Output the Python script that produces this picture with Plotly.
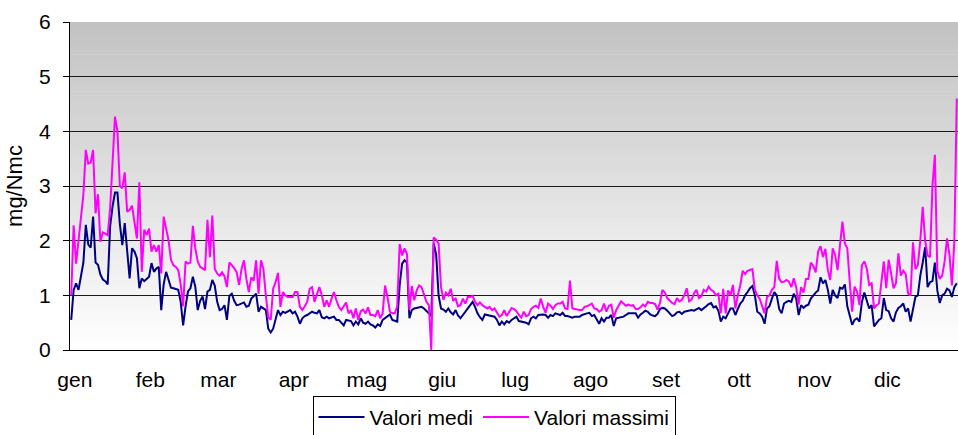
import plotly.graph_objects as go

# ---- data (daily values) ----
month_labels = ["gen", "feb", "mar", "apr", "mag", "giu", "lug", "ago", "set", "ott", "nov", "dic"]
month_lengths = [31, 28, 31, 30, 31, 30, 31, 31, 30, 31, 30, 31]

valori_medi = [
    0.55, 1.1, 1.22, 1.1, 1.35, 1.6, 2.29, 1.93, 1.87, 2.44,
    1.6, 1.56, 1.38, 1.29, 1.26, 1.2, 2.26, 2.63, 2.88, 2.88,
    2.3, 1.92, 2.32, 1.8, 1.31, 1.86, 1.8, 1.68, 1.13, 1.31,
    1.26, 1.3, 1.34, 1.59, 1.43, 1.49, 1.52, 0.73, 1.2, 1.43,
    1.28, 1.14, 1.13, 1.12, 1.1, 0.88, 0.45, 0.8, 1.07, 1.13,
    1.34, 1.16, 0.73, 0.9, 0.98, 0.75, 1.07, 1.1, 1.28, 1.18,
    0.88, 0.73, 0.75, 0.82, 0.55, 0.99, 1.03, 0.9, 0.82, 0.83,
    0.85, 0.87, 0.79, 0.81, 0.94, 0.99, 1.03, 0.7, 0.79, 0.76,
    0.73, 0.39, 0.32, 0.39, 0.58, 0.73, 0.64, 0.7, 0.68, 0.71,
    0.73, 0.67, 0.7, 0.61, 0.48, 0.58, 0.62, 0.64, 0.67, 0.7,
    0.68, 0.67, 0.73, 0.6, 0.58, 0.61, 0.58, 0.6, 0.61, 0.55,
    0.55, 0.5, 0.45, 0.55, 0.54, 0.53, 0.45, 0.52, 0.47, 0.58,
    0.5, 0.48, 0.52, 0.47, 0.45, 0.41, 0.47, 0.44, 0.55, 0.58,
    0.62, 0.65, 0.55, 0.53, 0.52, 1.18, 1.58, 1.64, 1.6, 0.58,
    0.73, 0.76, 0.77, 0.79, 0.79, 0.76, 0.72, 0.67, 0.62, 1.95,
    1.75, 1.0, 0.76, 0.74, 0.7, 0.76, 0.69, 0.65, 0.73, 0.63,
    0.58, 0.65, 0.7, 0.76, 0.82, 0.88, 0.79, 0.67, 0.6, 0.55,
    0.65, 0.64, 0.64, 0.63, 0.61, 0.55, 0.45, 0.52, 0.47, 0.53,
    0.5, 0.55, 0.58, 0.61, 0.53, 0.52, 0.52, 0.5, 0.47, 0.58,
    0.61, 0.58, 0.64, 0.65, 0.65, 0.64, 0.59, 0.64, 0.62, 0.67,
    0.66, 0.64, 0.68, 0.62, 0.62, 0.61, 0.59, 0.61, 0.61, 0.61,
    0.64, 0.66, 0.67, 0.68, 0.62, 0.64, 0.55, 0.48, 0.58, 0.52,
    0.59, 0.59, 0.64, 0.44, 0.58, 0.59, 0.6, 0.61, 0.64, 0.67,
    0.67, 0.67, 0.67, 0.59, 0.65, 0.68, 0.72, 0.7, 0.65, 0.63,
    0.62, 0.66, 0.75, 0.77, 0.76, 0.72, 0.67, 0.62, 0.64, 0.69,
    0.7, 0.66, 0.7, 0.71, 0.71, 0.73, 0.72, 0.75, 0.77, 0.73,
    0.76, 0.8, 0.84, 0.86, 0.78, 0.8, 0.72, 0.52, 0.61, 0.58,
    0.67, 0.76, 0.76, 0.64, 0.75, 0.85, 0.9, 1.0, 1.06, 1.13,
    1.17, 1.0, 0.7, 0.67, 0.61, 0.48, 0.76, 0.8, 0.94, 1.06,
    1.0, 0.75, 0.67, 0.85, 0.88, 0.9, 0.88, 1.03, 0.94, 0.64,
    0.82, 0.77, 0.81, 0.83, 0.94, 1.0, 1.05, 1.09, 1.33, 1.22,
    1.28, 1.1, 0.85, 1.1, 1.0, 0.95, 1.14, 1.12, 1.2, 0.8,
    0.6, 0.46, 0.55, 0.58, 0.52, 0.88, 1.05, 0.91, 0.76, 0.82,
    0.43, 0.49, 0.55, 0.58, 0.95, 0.73, 0.71, 0.58, 0.52, 0.69,
    0.77, 0.8, 0.85, 0.7, 0.76, 0.52, 0.73, 0.97, 1.0, 1.36,
    1.6, 1.88, 1.15, 1.24, 1.26, 1.6, 1.09, 0.86, 1.0, 1.03,
    1.12, 1.09, 0.97, 1.15, 1.22,
]

valori_massimi = [
    1.0, 2.28, 1.58, 2.0, 2.4, 2.84, 3.66, 3.41, 3.43, 3.66,
    2.5, 2.85, 1.98, 2.15, 2.13, 2.1, 2.6, 3.5, 4.27, 4.0,
    3.0, 2.96, 3.25, 2.53, 2.56, 2.64, 2.29, 2.04, 3.07, 1.43,
    2.2, 2.1, 2.22, 1.8, 1.92, 1.8, 1.92, 1.4, 2.44, 2.22,
    2.01, 1.65, 1.55, 1.52, 1.46, 1.2, 0.8, 1.62, 1.58, 1.6,
    2.27, 1.86, 1.62, 1.52, 1.49, 1.46, 2.38, 1.7, 2.46, 1.48,
    1.4, 1.36, 1.42, 1.35, 1.15, 1.6, 1.55, 1.5, 1.42, 1.19,
    1.48, 1.64, 1.3, 1.06, 1.33, 1.27, 1.64, 1.03, 1.64, 1.48,
    1.0, 0.6, 0.55, 1.12, 1.24, 1.41, 0.79, 1.06, 1.0, 0.97,
    0.97, 0.97, 1.06, 1.06, 0.79, 0.73, 0.8, 0.88, 1.12, 1.15,
    0.88, 1.03, 1.15, 1.0, 0.79, 0.91, 0.79, 0.94, 1.06, 0.91,
    0.79, 0.73, 0.79, 0.87, 0.67, 0.73, 0.58, 0.76, 0.55, 0.71,
    0.74, 0.67, 0.78, 0.64, 0.64, 0.62, 0.73, 0.58, 0.67, 1.18,
    0.97, 0.7, 0.67, 0.67, 0.8, 1.94, 1.73, 1.86, 1.76, 0.73,
    1.17, 0.91, 1.09, 1.18, 1.15, 1.03, 0.88, 0.82, 0.0, 2.06,
    2.02, 1.95, 1.15, 0.92, 1.05, 1.0, 1.12, 0.9, 0.94, 0.8,
    0.82, 0.94, 0.85, 0.97, 0.97, 0.99, 0.88, 0.82, 0.87, 0.82,
    0.79, 0.76, 0.79, 0.73, 0.76, 0.67, 0.61, 0.64, 0.73, 0.62,
    0.7, 0.77, 0.75, 0.71, 0.64, 0.59, 0.7, 0.62, 0.64, 0.75,
    0.79, 0.81, 0.77, 0.94, 0.79, 0.68, 0.85, 0.81, 0.75, 0.82,
    0.85, 0.85, 0.88, 0.76, 0.75, 1.27, 0.76, 0.75, 0.73, 0.73,
    0.73, 0.79, 0.8, 0.83, 0.85, 0.76, 0.75, 0.7, 0.73, 0.85,
    0.7, 0.81, 0.83, 0.59, 0.73, 0.81, 0.89, 0.85, 0.81, 0.83,
    0.81, 0.82, 0.75, 0.75, 0.78, 0.83, 0.8, 0.88, 0.86, 0.86,
    0.84, 0.74, 0.86, 1.1, 1.05, 0.95, 0.9, 0.86, 0.84, 0.95,
    0.89, 0.92, 1.0, 1.13, 0.89, 0.92, 1.04, 1.1, 0.95, 0.98,
    1.1, 1.07, 1.16, 1.1, 1.07, 1.0, 1.03, 0.67, 1.12, 0.67,
    1.09, 1.0, 1.19, 0.76, 1.0, 1.18, 1.45, 1.39, 1.45, 1.47,
    1.48, 1.1, 1.0, 0.94, 0.82, 0.67, 0.97, 1.0, 1.1, 1.15,
    1.63, 1.3, 1.24, 1.25, 1.28, 1.25, 1.15, 1.31, 1.15, 0.83,
    1.15, 1.05, 1.3, 1.3, 1.6, 1.54, 1.42, 1.8, 1.9, 1.7,
    1.85, 1.46, 1.28, 1.86, 1.74, 1.46, 1.92, 2.35, 1.95, 1.86,
    1.25, 0.7, 1.16, 1.07, 0.82, 1.55, 1.62, 1.49, 1.19, 1.22,
    0.76, 0.82, 0.85, 1.19, 1.62, 1.13, 1.65, 1.4, 1.13, 1.22,
    1.77, 1.36, 1.45, 1.39, 1.03, 1.0, 1.97, 1.48, 1.55, 2.0,
    2.62, 2.0, 1.73, 1.7, 3.0, 3.57, 1.45, 1.3, 1.36, 1.62,
    2.04, 1.74, 1.18, 2.0, 4.6,
]

y_ticks = [0, 1, 2, 3, 4, 5, 6]

# ---- figure ----
days = list(range(len(valori_medi)))

tick_pos = []
acc = 0
for n in month_lengths:
    tick_pos.append(acc + 1.5)
    acc += n

FONT = "Liberation Sans, Arial, sans-serif"

fig = go.Figure()
fig.add_trace(go.Scatter(x=days, y=valori_medi, mode="lines", name="Valori medi",
                         line=dict(color="#000080", width=2)))
fig.add_trace(go.Scatter(x=days, y=valori_massimi, mode="lines", name="Valori massimi",
                         line=dict(color="#ff00ff", width=2)))

# gradient background (grey at top fading to white at bottom)
shapes = []
n_bands = 80
top_rgb = (194, 194, 194)
for i in range(n_bands):
    f = (i + 0.5) / n_bands  # 0 bottom -> 1 top
    c = tuple(int(round(255 + (t - 255) * f)) for t in top_rgb)
    shapes.append(dict(type="rect", xref="paper", yref="y",
                       x0=0, x1=1, y0=6 * i / n_bands, y1=6 * (i + 1) / n_bands + 0.01,
                       fillcolor="rgb(%d,%d,%d)" % c, line=dict(width=0), layer="below"))

fig.update_layout(
    width=958, height=435,
    margin=dict(l=70, r=0, t=22, b=85, autoexpand=False),
    paper_bgcolor="white",
    plot_bgcolor="white",
    shapes=shapes,
    font=dict(family=FONT, size=21, color="black"),
    showlegend=True,
    legend=dict(orientation="h", x=0.4775, xanchor="center", y=-0.14, yanchor="top",
                bordercolor="black", borderwidth=1, bgcolor="white",
                font=dict(family=FONT, size=21, color="black"),
                itemwidth=46, tracegroupgap=0),
    xaxis=dict(range=[-0.5, len(valori_medi) - 0.5], tickmode="array",
               tickvals=tick_pos, ticktext=month_labels, ticks="",
               showgrid=False, zeroline=False, showline=True, linecolor="black",
               linewidth=1, ticklabelstandoff=11, automargin=False,
               tickfont=dict(family=FONT, size=21, color="black")),
    yaxis=dict(range=[0, 6], tickmode="array", tickvals=y_ticks,
               ticks="outside", ticklen=6, tickcolor="black", tickwidth=1,
               showgrid=True, gridcolor="#1a1a1a", gridwidth=1,
               zeroline=False, showline=True, linecolor="black", linewidth=1,
               ticklabelstandoff=8, automargin=False,
               title=dict(text="mg/Nmc", font=dict(family=FONT, size=22, color="black"),
                          standoff=10),
               tickfont=dict(family=FONT, size=21, color="black")),
)

fig.write_html("out.html", config={"displayModeBar": False},
               post_script="document.body.style.margin='0';document.body.style.padding='0';")
